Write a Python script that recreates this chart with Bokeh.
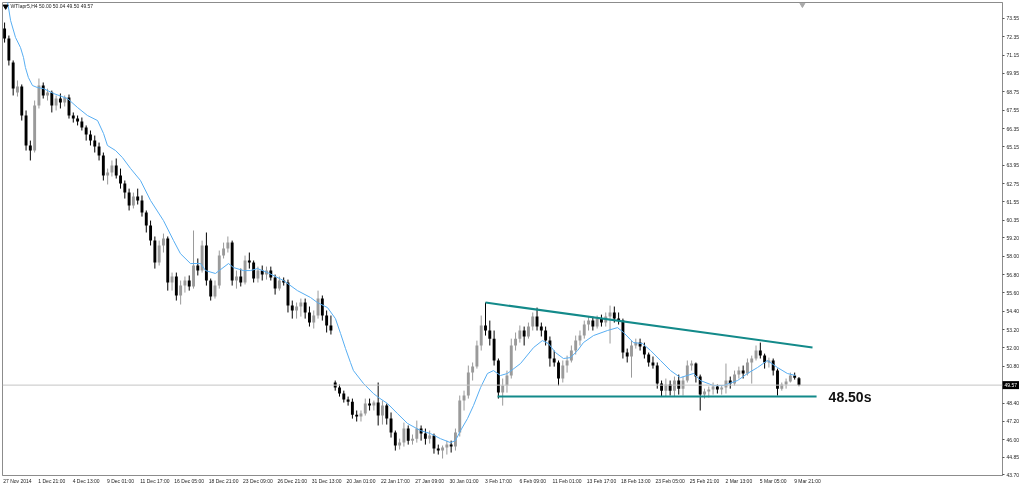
from bokeh.plotting import figure
from bokeh.models import Range1d, FixedTicker, PrintfTickFormatter, Label, Span, ColumnDataSource
from bokeh.embed import file_html
from bokeh.resources import INLINE

# ---------------- data ----------------
chart_title = "WTIapr5,H4  50.00 50.04 49.50 49.57"
bars_per_candle = 2          # every drawn candle stands for two H4 bars

opens = [72.89, 72.23, 70.67, 68.70, 69.10, 67.20, 65.24, 64.91, 67.85, 69.16,
         68.51, 68.70, 67.85, 68.31, 68.05, 68.38, 67.20, 67.00, 66.81, 66.41,
         65.96, 65.56, 65.17, 64.58, 63.28, 63.47, 63.93, 63.28, 62.75, 62.16,
         61.31, 61.90, 61.64, 60.86, 60.01, 59.02, 57.59, 58.70, 59.15, 56.28,
         56.67, 55.43, 56.08, 56.41, 56.02, 57.39, 57.06, 58.70, 56.41, 55.36,
         56.08, 58.04, 58.50, 58.89, 56.41, 56.67, 56.28, 57.72, 57.59, 56.54,
         57.06, 56.80, 57.06, 56.61, 55.88, 56.41, 56.28, 54.77, 54.45, 54.71,
         54.97, 54.32, 53.66, 54.12, 55.23, 54.12, 53.47, 49.74, 49.41, 49.02,
         48.63, 48.49, 47.64, 47.51, 47.71, 48.36, 48.23, 48.43, 47.58, 48.23,
         47.38, 46.47, 45.62, 45.81, 46.73, 45.94, 46.07, 46.73, 46.40, 46.07,
         46.27, 45.42, 45.29, 45.49, 45.68, 45.55, 46.47, 48.56, 48.89, 50.39,
         50.78, 52.16, 53.47, 53.14, 52.61, 51.18, 49.08, 49.54, 50.20, 52.16,
         52.61, 53.14, 52.75, 53.40, 54.05, 53.40, 53.14, 52.48, 51.31, 51.05,
         50.00, 50.85, 51.18, 51.83, 52.48, 52.81, 53.53, 53.79, 53.40, 53.92,
         53.66, 54.05, 54.32, 53.92, 53.79, 51.70, 51.44, 52.16, 52.35, 52.09,
         51.57, 51.05, 50.85, 49.67, 49.21, 49.61, 49.21, 49.87, 49.34, 49.87,
         50.85, 50.98, 50.13, 48.95, 49.15, 49.28, 49.48, 49.28, 49.41, 49.87,
         49.67, 50.26, 50.52, 50.33, 51.05, 51.31, 51.83, 51.50, 51.05, 51.18,
         50.52, 49.34, 49.61, 49.80, 50.20, 50.02]
highs = [73.28, 72.43, 70.80, 69.49, 69.23, 67.53, 65.56, 68.18, 69.62, 69.36,
         68.96, 68.83, 68.51, 68.64, 68.51, 68.57, 67.40, 67.20, 67.07, 66.55,
         66.22, 65.89, 65.43, 64.78, 63.73, 64.26, 64.39, 63.73, 62.95, 62.42,
         62.16, 62.42, 61.97, 60.99, 60.33, 59.29, 59.02, 59.48, 59.29, 56.93,
         56.93, 56.41, 56.67, 56.74, 59.68, 57.85, 59.02, 59.55, 56.54, 56.41,
         58.37, 58.89, 59.29, 59.02, 57.06, 57.19, 58.04, 58.24, 57.72, 57.32,
         57.39, 57.32, 57.32, 56.80, 56.67, 56.61, 56.47, 55.10, 54.97, 55.23,
         55.23, 54.71, 54.45, 55.75, 55.43, 54.45, 54.12, 49.87, 49.61, 49.21,
         48.82, 48.69, 47.91, 47.91, 48.69, 48.69, 48.56, 49.74, 48.56, 48.36,
         47.78, 46.60, 46.07, 47.12, 46.93, 46.34, 47.25, 46.93, 46.73, 46.60,
         46.40, 45.68, 45.62, 45.94, 45.94, 46.73, 48.89, 49.21, 50.85, 51.05,
         52.48, 54.12, 54.97, 53.79, 53.14, 51.31, 50.00, 50.52, 52.61, 53.01,
         53.47, 53.40, 53.66, 54.32, 54.64, 53.66, 53.40, 52.75, 51.83, 51.18,
         51.18, 51.50, 52.16, 52.81, 53.14, 53.79, 54.05, 54.05, 54.12, 54.18,
         54.32, 54.77, 54.71, 54.32, 53.92, 51.96, 52.48, 52.61, 52.61, 52.35,
         51.70, 51.44, 51.05, 49.87, 50.00, 49.87, 50.13, 50.26, 50.13, 51.18,
         51.18, 51.05, 50.26, 49.34, 49.48, 49.74, 49.61, 49.54, 50.98, 50.13,
         50.52, 50.78, 50.85, 51.31, 51.50, 52.16, 52.35, 51.63, 51.37, 51.31,
         50.65, 49.74, 50.00, 50.39, 50.39, 50.10]
lows = [71.97, 70.47, 68.51, 68.44, 66.87, 64.91, 64.26, 64.78, 67.66, 68.31,
        68.18, 67.40, 67.53, 67.66, 67.79, 67.00, 66.74, 66.55, 66.22, 65.56,
        65.24, 64.78, 64.26, 62.95, 62.69, 63.21, 63.08, 62.42, 61.77, 60.99,
        61.12, 61.38, 60.59, 59.55, 58.70, 57.19, 57.39, 58.24, 55.75, 55.75,
        55.10, 54.84, 55.62, 55.75, 55.88, 56.74, 56.93, 56.08, 55.10, 55.23,
        55.88, 57.85, 58.24, 56.08, 55.88, 56.02, 56.15, 57.19, 56.28, 56.28,
        56.41, 56.47, 56.41, 55.49, 55.75, 56.08, 54.32, 53.92, 53.92, 54.05,
        53.92, 53.40, 53.27, 53.92, 53.79, 53.01, 52.88, 49.21, 48.82, 48.43,
        48.23, 47.38, 47.19, 47.19, 47.58, 47.91, 47.91, 46.93, 46.99, 46.99,
        46.14, 45.29, 45.36, 45.55, 45.68, 45.68, 45.81, 45.94, 45.68, 45.75,
        45.09, 45.03, 44.77, 45.03, 45.16, 45.29, 46.21, 47.91, 48.69, 49.87,
        50.65, 51.83, 52.81, 52.16, 50.85, 48.69, 48.23, 49.08, 50.00, 51.83,
        52.35, 52.16, 52.61, 53.14, 53.14, 52.75, 52.16, 50.78, 50.78, 49.54,
        49.74, 50.39, 51.05, 51.57, 52.16, 52.61, 53.14, 53.14, 53.27, 53.40,
        53.40, 52.29, 53.66, 53.53, 51.31, 51.05, 50.06, 51.96, 51.83, 51.31,
        50.78, 50.65, 49.34, 48.82, 48.82, 48.89, 48.82, 48.95, 48.89, 49.74,
        50.52, 49.74, 47.91, 48.69, 48.76, 48.95, 49.02, 48.95, 49.02, 49.34,
        49.54, 50.00, 50.00, 50.20, 49.67, 51.18, 51.31, 50.65, 50.72, 50.20,
        48.89, 49.21, 49.34, 49.74, 49.93, 49.50]
closes = [72.23, 70.80, 68.96, 69.10, 67.20, 65.24, 64.91, 67.85, 69.16, 68.51,
          68.70, 67.85, 68.31, 68.05, 68.38, 67.20, 67.00, 66.81, 66.41, 65.96,
          65.56, 65.17, 64.58, 63.28, 63.47, 63.93, 63.28, 62.75, 62.16, 61.31,
          61.90, 61.64, 60.86, 60.01, 59.02, 57.59, 58.70, 59.15, 56.28, 56.67,
          55.43, 56.08, 56.41, 56.02, 57.39, 57.06, 58.70, 56.41, 55.36, 56.08,
          58.04, 58.50, 58.89, 56.41, 56.67, 56.28, 57.72, 57.59, 56.54, 57.06,
          56.80, 57.06, 56.61, 55.88, 56.41, 56.28, 54.77, 54.45, 54.71, 54.97,
          54.32, 53.66, 54.12, 55.23, 54.12, 53.47, 53.14, 49.41, 49.02, 48.63,
          48.49, 47.64, 47.51, 47.71, 48.36, 48.23, 48.43, 47.58, 48.23, 47.38,
          46.47, 45.62, 45.81, 46.73, 45.94, 46.07, 46.73, 46.40, 46.07, 46.27,
          45.42, 45.29, 45.49, 45.68, 45.55, 46.47, 48.56, 48.89, 50.39, 50.78,
          52.16, 53.47, 53.14, 52.61, 51.18, 49.08, 49.54, 50.20, 52.16, 52.61,
          53.14, 52.75, 53.40, 54.05, 53.40, 53.14, 52.48, 51.31, 51.05, 50.00,
          50.85, 51.18, 51.83, 52.48, 52.81, 53.53, 53.79, 53.40, 53.92, 53.66,
          54.05, 54.32, 53.92, 53.79, 51.70, 51.44, 52.16, 52.35, 52.09, 51.57,
          51.05, 50.85, 49.67, 49.21, 49.61, 49.21, 49.87, 49.34, 49.87, 50.85,
          50.98, 50.13, 48.95, 49.15, 49.28, 49.48, 49.28, 49.41, 49.87, 49.67,
          50.26, 50.52, 50.33, 51.05, 51.31, 51.83, 51.50, 51.05, 51.18, 50.52,
          49.34, 49.61, 49.80, 50.20, 50.06, 49.57]

# moving average (light-blue line), as (H4 bar index, price)
ma_bar = [1.4, 3.3, 5.6, 7.9, 9.3, 10.2, 11.6, 13.5, 15.8, 18.6, 23.3, 29.8, 34.5,
          39.1, 43.8, 46.6, 48.4, 52.2, 55.4, 59.2, 63.8, 68.5, 74.5, 79.2, 82.4,
          87.1, 91.8, 94.1, 98.7, 104.8, 107.1, 111.8, 115.0, 118.3, 123.0, 130.4,
          136.9, 143.0, 146.2, 150.9, 154.6, 157.0, 159.3, 161.6, 163.0, 167.7,
          172.3, 174.7, 178.9, 183.5, 188.2, 194.2, 198.9, 203.5, 208.2, 210.5,
          212.9, 216.1, 218.9, 222.2, 225.4, 228.2, 231.5, 234.7, 240.8, 246.9,
          251.0, 253.8, 257.1, 260.8, 264.1, 267.4, 270.1, 274.8, 281.3, 286.0,
          288.8, 293.4, 297.6, 301.4, 306.0, 310.7, 315.3, 321.4, 324.6, 330.7,
          335.3, 341.9, 346.5, 351.2, 355.8, 360.5, 365.1, 368.9]
ma_val = [75.05, 73.41, 72.30, 71.65, 71.00, 70.34, 69.68, 69.16, 69.03, 68.96, 68.64,
          68.31, 67.72, 67.20, 66.87, 66.02, 65.24, 64.91, 64.45, 63.73, 62.95, 61.64,
          60.33, 59.02, 58.17, 57.52, 57.52, 57.06, 56.87, 57.52, 57.26, 57.06, 57.06,
          57.19, 56.93, 56.41, 55.75, 55.30, 54.97, 54.64, 53.92, 52.94, 51.96, 51.05,
          50.52, 49.67, 49.02, 48.76, 48.36, 47.71, 47.06, 46.60, 46.40, 46.07, 45.81,
          45.94, 46.60, 47.38, 48.23, 49.41, 50.33, 50.52, 50.20, 50.33, 50.98, 52.03,
          52.48, 52.29, 51.70, 51.31, 51.37, 51.83, 52.35, 52.81, 53.14, 53.33, 53.01,
          52.35, 52.29, 51.83, 51.18, 50.52, 50.06, 50.33, 49.87, 49.54, 49.54, 49.87,
          50.33, 50.72, 51.18, 50.72, 50.33, 50.20]

price_ticks = [73.55, 72.35, 71.15, 69.95, 68.75, 67.55, 66.35, 65.15, 63.95, 62.75,
               61.55, 60.35, 59.20, 58.00, 56.80, 55.60, 54.40, 53.20, 52.00, 50.80,
               48.40, 47.20, 46.00, 44.85, 43.70]
time_labels = ["27 Nov 2014", "1 Dec 21:00", "4 Dec 13:00", "9 Dec 01:00", "11 Dec 17:00",
               "16 Dec 05:00", "18 Dec 21:00", "23 Dec 09:00", "26 Dec 21:00", "31 Dec 13:00",
               "20 Jan 01:00", "22 Jan 17:00", "27 Jan 09:00", "30 Jan 01:00", "3 Feb 17:00",
               "6 Feb 09:00", "11 Feb 01:00", "13 Feb 17:00", "18 Feb 13:00", "23 Feb 05:00",
               "25 Feb 21:00", "2 Mar 13:00", "5 Mar 05:00", "9 Mar 21:00"]
bars_between_labels = 16

current_price = 49.57
resistance_bar = [224.5, 376.8]
resistance_val = [54.97, 52.03]
support_bar = [230.1, 378.7]
support_val = [48.82, 48.82]
support_text = "48.50s"
support_text_pos = (384.3, 48.82)
chart_shift_bar = 372.1     # MT4 chart-shift marker on the top edge

# ---------------- figure ----------------
# The canvas is 20px wider than the window: the hidden strip on the right hosts
# the side panel of the price tag, so the frame keeps its right edge at x=1002.
FONT = "Liberation Sans"
EXTRA = 20
p = figure(width=1024 + EXTRA, height=486,
           x_range=Range1d(-0.47, 465.3), y_range=Range1d(43.66, 74.59),
           output_backend="svg", toolbar_location=None,
           y_axis_location="right",
           min_border_left=2, min_border_right=22 + EXTRA, min_border_top=2, min_border_bottom=11,
           background_fill_color="white", border_fill_color="white",
           outline_line_color="#8c8c8c", outline_line_width=1)
p.styles = {"position": "fixed", "left": "0px", "top": "0px"}
p.grid.visible = False

ya = p.yaxis[0]
ya.ticker = FixedTicker(ticks=price_ticks)
ya.formatter = PrintfTickFormatter(format="%.2f")
ya.major_label_text_font = FONT
ya.major_label_text_font_size = "5px"
ya.major_label_text_color = "#222222"
ya.major_tick_in = 0
ya.major_tick_out = 2
ya.major_label_standoff = 2
ya.minor_tick_line_color = None
ya.axis_line_color = "#8c8c8c"
ya.major_tick_line_color = "#555555"

label_shift = 6.5  # bars: MT4 labels start at their bar, Bokeh centres them
xt = [k * bars_between_labels + label_shift for k in range(len(time_labels))]
xa = p.xaxis[0]
xa.ticker = FixedTicker(ticks=xt)
xa.major_label_overrides = {t: s for t, s in zip(xt, time_labels)}
xa.major_label_text_font = FONT
xa.major_label_text_font_size = "5px"
xa.major_label_text_color = "#222222"
xa.major_tick_in = 0
xa.major_tick_out = 0
xa.major_label_standoff = 2
xa.minor_tick_line_color = None
xa.axis_line_color = "#8c8c8c"

# current price line
p.add_layout(Span(location=current_price, dimension="width",
                  line_color="#c4c4c4", line_width=1))

# candles
xs = [j * bars_per_candle + 0.5 for j in range(len(closes))]
cols = ["#9a9a9a" if c >= o else "#000000" for o, c in zip(opens, closes)]
src = ColumnDataSource(dict(
    x=xs, o=opens, h=highs, l=lows, c=closes, color=cols,
    top=[max(o, c) for o, c in zip(opens, closes)],
    bot=[min(o, c) for o, c in zip(opens, closes)]))
p.segment(x0="x", y0="h", x1="x", y1="l", source=src, line_color="color", line_width=1)
p.vbar(x="x", width=1.35, top="top", bottom="bot", source=src,
       fill_color="color", line_color=None)

# moving average
p.line(ma_bar, ma_val, line_color="#58aef2", line_width=1)

# triangle (resistance / support)
p.line(resistance_bar, resistance_val, line_color="#138a8a", line_width=2)
p.line(support_bar, support_val, line_color="#138a8a", line_width=2)
p.add_layout(Label(x=support_text_pos[0], y=support_text_pos[1], text=support_text,
                   text_font=FONT, text_font_style="bold", text_font_size="14px",
                   text_color="#111111", text_baseline="middle", text_align="left"))

# title and chart-shift marker
p.scatter([1.0], [74.33], marker="inverted_triangle", size=5, color="black")
p.scatter([chart_shift_bar], [74.45], marker="inverted_triangle", size=5, color="#a8a8a8")
p.add_layout(Label(x=3.3, y=74.33, text=chart_title, text_font=FONT,
                   text_font_size="5px", text_color="#222222", text_baseline="middle"))

# current price tag on the price scale (side panel, so it is not clipped to the frame)
tag = Label(x=-20, x_units="screen", y=current_price, text=f"{current_price:.2f}",
            text_font=FONT, text_font_size="5px", text_color="white",
            text_baseline="middle", background_fill_color="black")
if "padding" in tag.properties():
    tag.padding = 2
p.add_layout(tag, "right")

open("out.html", "w").write(file_html(p, INLINE))
